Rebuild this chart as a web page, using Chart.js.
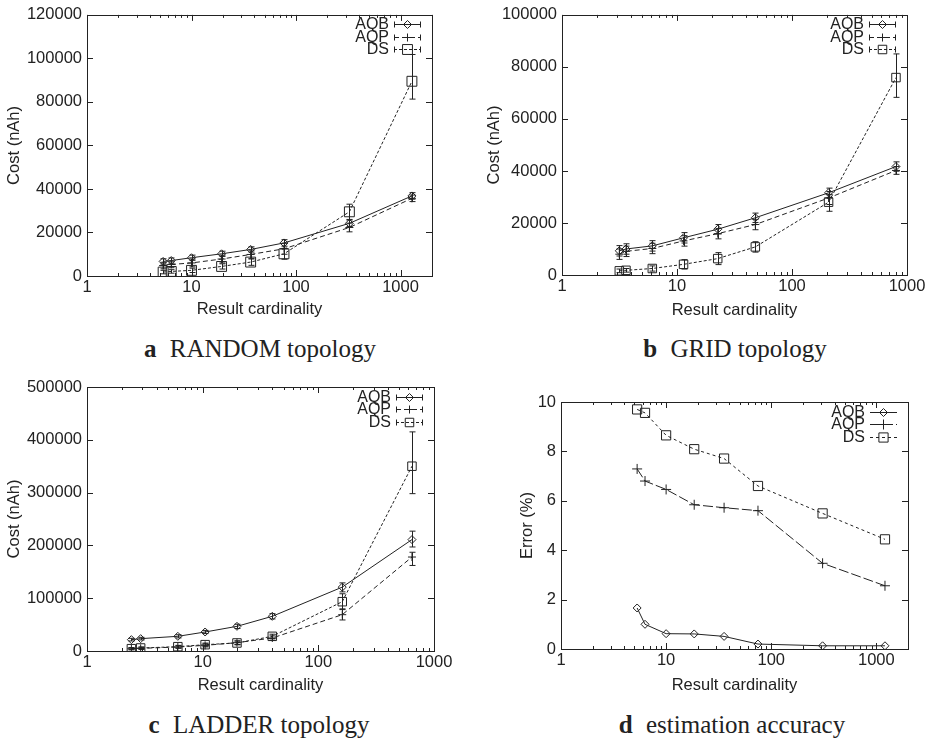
<!DOCTYPE html>
<html>
<head>
<meta charset="utf-8">
<script src="https://cdn.jsdelivr.net/npm/chart.js@4.4.0/dist/chart.umd.min.js"></script>
<style>
body { margin: 0; background: #fff; width: 931px; height: 742px; position: relative; overflow: hidden; }
canvas { position: absolute; }
.cap { position: absolute; font-family: "Liberation Serif", "Times New Roman", serif; font-size: 25px; line-height: 25px;
       color: #222; white-space: nowrap; transform: translateX(-50%); }
.cap b { margin-right: 7px; }
</style>
</head>
<body>
<canvas id="pa" width="465" height="330" style="left:0;top:0"></canvas>
<canvas id="pb" width="466" height="330" style="left:465px;top:0"></canvas>
<canvas id="pc" width="465" height="330" style="left:0;top:370px"></canvas>
<canvas id="pd" width="466" height="330" style="left:465px;top:370px"></canvas>
<div class="cap" style="left:260px;top:336px"><b>a</b> RANDOM topology</div>
<div class="cap" style="left:735px;top:336px"><b>b</b> GRID topology</div>
<div class="cap" style="left:259px;top:712px"><b>c</b> LADDER topology</div>
<div class="cap" style="left:732px;top:712px"><b>d</b> estimation accuracy</div>
<script>
var xMajor = [1, 10, 100, 1000];

// a: RANDOM topology
var xA = [5.35, 6.4, 10, 19.4, 36.8, 76.7, 324, 1285];
var aqbA = [6700, 7100, 8400, 10200, 12200, 15200, 24200, 36800];
var aqpA = [4800, 5300, 6000, 7800, 9900, 12500, 22300, 35700];
var dsA = [1800, 2100, 2600, 4400, 6400, 10200, 29500, 89500];
var aqbErrA = [1200, 1200, 1200, 1200, 1200, 1500, 1500, 1500];
var aqpErrA = [1500, 1500, 1800, 1800, 2000, 2500, 2000, 1500];
var dsErrA = [800, 800, 1000, 1200, 1500, 2500, 3500, [8200, 12300]];

// b: GRID topology
var xB = [3.15, 3.6, 6.1, 11.4, 22.6, 48, 208, 802];
var aqbB = [9300, 10000, 11200, 14300, 17600, 22000, 31600, 41700];
var aqpB = [8000, 9100, 10200, 13100, 15900, 19400, 29600, 40200];
var dsB = [1600, 1800, 2500, 4100, 6300, 10800, 28000, 75900];
var aqbErrB = [2000, 2000, 2000, 2000, 1800, 1800, 1800, 1800];
var aqpErrB = [2000, 2000, 2000, 2000, 2000, 2000, 2500, 1500];
var dsErrB = [700, 700, 1000, 1800, 2300, 2000, [3500, 3000], [7600, 9100]];

// c: LADDER topology
var xC = [2.42, 2.91, 6.1, 10.5, 19.8, 40, 161, 645];
var aqbC = [21500, 23400, 27800, 36000, 46700, 65700, 121000, 211000];
var aqpC = [4400, 5000, 7600, 10700, 15800, 24600, 68800, 178000];
var dsC = [4400, 5700, 8200, 12000, 15200, 27800, 93400, 350000];
var aqbErrC = [2500, 2500, 3000, 3000, 4000, 5000, [9000, 8000], [14000, 16000]];
var aqpErrC = [2000, 2000, 2500, 3000, 3500, 4000, [10000, 11000], [16000, 9000]];
var dsErrC = [2000, 2000, 2500, 3000, 3500, 4000, 15000, [52000, 65000]];

// d: estimation accuracy
var xD = [5.3, 6.3, 10, 18.5, 35.6, 74.8, 308, 1208];
var aqbD = [1.66, 1.0, 0.62, 0.61, 0.51, 0.2, 0.13, 0.13];
var aqpD = [7.29, 6.8, 6.46, 5.84, 5.72, 5.6, 3.47, 2.56];
var dsD = [9.7, 9.56, 8.65, 8.09, 7.71, 6.6, 5.49, 4.44];

var INK = '#222';
var SANS = '"Liberation Sans", Arial, Helvetica, sans-serif';

// gnuplot style border with inward ticks on all four sides
var frame = {
    id: 'frame',
    afterDatasetsDraw: function (chart) {
        var c = chart.ctx, a = chart.chartArea, x = chart.scales.x, y = chart.scales.y;
        c.save();
        c.strokeStyle = INK;
        c.lineWidth = 1;
        c.strokeRect(Math.round(a.left) + 0.5, Math.round(a.top) + 0.5,
            Math.round(a.right - a.left), Math.round(a.bottom - a.top));
        c.beginPath();
        y.ticks.forEach(function (t) {
            var py = Math.round(y.getPixelForValue(t.value)) + 0.5;
            c.moveTo(a.left, py); c.lineTo(a.left + 6, py);
            c.moveTo(a.right, py); c.lineTo(a.right - 6, py);
        });
        for (var d = 1; d < x.max; d *= 10) {
            for (var k = 1; k < 10; k++) {
                var v = d * k;
                if (v > x.max) break;
                var px = Math.round(x.getPixelForValue(v)) + 0.5;
                var len = k === 1 ? 6 : 3;
                c.moveTo(px, a.bottom); c.lineTo(px, a.bottom - len);
                c.moveTo(px, a.top); c.lineTo(px, a.top + len);
            }
        }
        c.stroke();
        c.restore();
    }
};

var errBars = {
    id: 'errBars',
    afterDatasetsDraw: function (chart) {
        var c = chart.ctx, x = chart.scales.x, y = chart.scales.y;
        c.save();
        c.strokeStyle = INK;
        c.lineWidth = 1;
        c.setLineDash([]);
        c.beginPath();
        chart.data.datasets.forEach(function (ds) {
            if (!ds.err) return;
            ds.data.forEach(function (p, i) {
                var e = ds.err[i];
                var lo = typeof e === 'number' ? e : e[0];
                var hi = typeof e === 'number' ? e : e[1];
                var px = Math.round(x.getPixelForValue(p.x)) + 0.5;
                var y1 = y.getPixelForValue(p.y - lo), y2 = y.getPixelForValue(p.y + hi);
                c.moveTo(px, y1); c.lineTo(px, y2);
                c.moveTo(px - 3, y1); c.lineTo(px + 3, y1);
                c.moveTo(px - 3, y2); c.lineTo(px + 3, y2);
            });
        });
        c.stroke();
        c.restore();
    }
};

function mark(c, style, r, x, y) {
    c.beginPath();
    if (style === 'rectRot') {
        c.moveTo(x, y - r); c.lineTo(x + r, y); c.lineTo(x, y + r); c.lineTo(x - r, y); c.closePath();
    } else if (style === 'cross') {
        c.moveTo(x - r, y); c.lineTo(x + r, y); c.moveTo(x, y - r); c.lineTo(x, y + r);
    } else {
        var s = r * Math.SQRT1_2;
        c.rect(x - s, y - s, 2 * s, 2 * s);
    }
    c.stroke();
}

// key in the top right corner
var key = {
    id: 'key',
    afterDraw: function (chart, args, opts) {
        var c = chart.ctx, a = chart.chartArea;
        c.save();
        c.font = '16px ' + SANS;
        c.fillStyle = INK;
        c.strokeStyle = INK;
        c.lineWidth = 1;
        c.textAlign = 'right';
        c.textBaseline = 'middle';
        chart.data.datasets.forEach(function (ds, i) {
            var ly = Math.round(a.top + 9.5 + i * 12.5) + 0.5;
            var x1 = a.right - 38, x2 = a.right - 11;
            c.fillText(ds.label, a.right - 43, ly);
            c.setLineDash(ds.borderDash || []);
            c.beginPath(); c.moveTo(x1, ly); c.lineTo(x2, ly); c.stroke();
            c.setLineDash([]);
            if (opts.caps) {
                c.beginPath();
                c.moveTo(x1 + 0.5, ly - 3); c.lineTo(x1 + 0.5, ly + 3);
                c.moveTo(x2 - 0.5, ly - 3); c.lineTo(x2 - 0.5, ly + 3);
                c.stroke();
            }
            mark(c, ds.pointStyle, ds.pointRadius, (x1 + x2) / 2, ly);
        });
        c.restore();
    }
};

function series(label, xs, ys, err, style, r, dash) {
    return {
        label: label,
        data: xs.map(function (v, i) { return {x: v, y: ys[i]}; }),
        err: err,
        borderColor: INK,
        borderWidth: 1,
        borderDash: dash,
        pointStyle: style,
        pointRadius: r,
        pointBorderColor: INK,
        pointBackgroundColor: 'rgba(0,0,0,0)',
        pointBorderWidth: 1,
        fill: false,
        tension: 0
    };
}

function panel(id, sets, o) {
    return new Chart(document.getElementById(id), {
        type: 'line',
        data: {datasets: sets},
        options: {
            responsive: false,
            animation: false,
            layout: {padding: {left: 0, top: o.top, right: o.right, bottom: 0}},
            plugins: {legend: {display: false}, tooltip: {enabled: false}, key: {caps: o.caps}},
            scales: {
                x: {
                    type: 'logarithmic',
                    min: 1,
                    max: o.xMax,
                    afterBuildTicks: function (s) {
                        s.ticks = xMajor.filter(function (v) { return v <= s.max; })
                            .map(function (v) { return {value: v}; });
                    },
                    afterFit: function (s) { s.height = o.xH; },
                    grid: {display: false, drawTicks: false},
                    border: {display: false},
                    ticks: {
                        color: INK, font: {family: SANS, size: 16.5}, padding: 2,
                        autoSkip: false, maxRotation: 0,
                        callback: function (v) { return String(v); }
                    },
                    title: {
                        display: true, text: 'Result cardinality', color: INK,
                        font: {family: SANS, size: 16.5}, padding: {top: 0, bottom: o.xTitlePad}
                    }
                },
                y: {
                    type: 'linear',
                    min: 0,
                    max: o.yMax,
                    afterFit: function (s) { s.width = o.yW; },
                    grid: {display: false, drawTicks: false},
                    border: {display: false},
                    ticks: {
                        color: INK, font: {family: SANS, size: 16.5}, padding: 5, stepSize: o.yStep,
                        callback: function (v) { return String(v); }
                    },
                    title: {
                        display: true, text: o.yTitle, color: INK,
                        font: {family: SANS, size: 16.5}, padding: {top: o.yTitlePad, bottom: 0}
                    }
                }
            }
        },
        plugins: [frame, errBars, key]
    });
}

panel('pa', [
    series('AQB', xA, aqbA, aqbErrA, 'rectRot', 4, []),
    series('AQP', xA, aqpA, aqpErrA, 'cross', 4, [5, 3]),
    series('DS', xA, dsA, dsErrA, 'rect', 7, [3, 2])
], {top: 12, right: 33, xH: 54, yW: 87, xMax: 2000, yMax: 120000, yStep: 20000,
    yTitle: 'Cost (nAh)', yTitlePad: 5, xTitlePad: 11, caps: true});

panel('pb', [
    series('AQB', xB, aqbB, aqbErrB, 'rectRot', 4, []),
    series('AQP', xB, aqpB, aqpErrB, 'cross', 4, [5, 3]),
    series('DS', xB, dsB, dsErrB, 'rect', 6, [3, 2])
], {top: 12, right: 24, xH: 55, yW: 97, xMax: 1000, yMax: 100000, yStep: 20000,
    yTitle: 'Cost (nAh)', yTitlePad: 20, xTitlePad: 10, caps: true});

panel('pc', [
    series('AQB', xC, aqbC, aqbErrC, 'rectRot', 4, []),
    series('AQP', xC, aqpC, aqpErrC, 'cross', 4, [5, 3]),
    series('DS', xC, dsC, dsErrC, 'rect', 6, [3, 2])
], {top: 17, right: 31, xH: 49, yW: 87, xMax: 1000, yMax: 500000, yStep: 100000,
    yTitle: 'Cost (nAh)', yTitlePad: 5, xTitlePad: 5, caps: true});

panel('pd', [
    series('AQB', xD, aqbD, null, 'rectRot', 4, []),
    series('AQP', xD, aqpD, null, 'cross', 5, [10, 3]),
    series('DS', xD, dsD, null, 'rect', 6.5, [3, 3])
], {top: 32, right: 23, xH: 51, yW: 96, xMax: 2000, yMax: 10, yStep: 2,
    yTitle: 'Error (%)', yTitlePad: 53, xTitlePad: 5, caps: false});
</script>
</body>
</html>
